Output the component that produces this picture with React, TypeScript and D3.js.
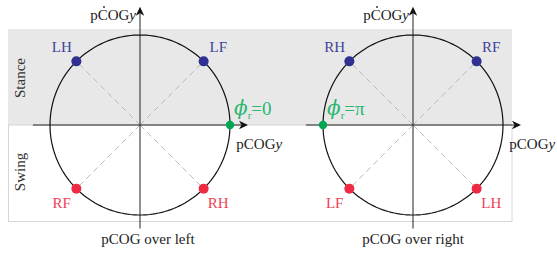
import * as d3 from 'd3';

// Leg placement (degrees, counter-clockwise from +x) and names per panel
const legAngles = [45, 135, 225, 315];
const leftLegs = ['LF', 'LH', 'RF', 'RH'];
const rightLegs = ['RF', 'RH', 'LF', 'LH'];
const panelTitles = ['pCOG over left', 'pCOG over right'];
const phaseAngles = [0, 180];
const phaseLabels = ['0', 'π'];

const W = 557;
const H = 253;
const R = 90;
const cy = 125;
const panelCx = [140, 413];

const BLUE = '#2e3192';
const RED = '#ee2a45';
const GREEN = '#00a651';
const GREEN_TXT = '#2bb673';
const FONT = '"Liberation Serif", "Times New Roman", serif';

function Arrow({ x, y, dir }: { x: number; y: number; dir: 'up' | 'right' }) {
  // stealth-like arrowhead with tip at (x, y)
  const p = 'M0,0 L-9,-4.2 L-6.5,0 L-9,4.2 Z';
  const rot = dir === 'up' ? -90 : 0;
  return <path d={p} transform={`translate(${x},${y}) rotate(${rot})`} fill="#111" />;
}

function Panel({ idx }: { idx: number }) {
  const cx = panelCx[idx];
  const xs = d3.scaleLinear().domain([-1, 1]).range([cx - R, cx + R]);
  const ys = d3.scaleLinear().domain([-1, 1]).range([cy + R, cy - R]);
  const legs = idx === 0 ? leftLegs : rightLegs;
  const rad = (a: number) => (a * Math.PI) / 180;

  const circle = d3
    .line<number>()
    .x((a) => xs(Math.cos(rad(a))))
    .y((a) => ys(Math.sin(rad(a))))
    .curve(d3.curveLinearClosed)(d3.range(0, 360, 2));

  const ph = phaseAngles[idx];
  const phx = xs(Math.cos(rad(ph)));
  const phy = ys(Math.sin(rad(ph)));

  return (
    <g>
      {/* dashed spokes */}
      {legAngles.map((a, i) => (
        <line
          key={'d' + i}
          x1={xs(0)}
          y1={ys(0)}
          x2={xs(Math.cos(rad(a)))}
          y2={ys(Math.sin(rad(a)))}
          stroke="#bbbbbb"
          strokeWidth={1}
          strokeDasharray="6,4"
        />
      ))}
      {/* axes */}
      <line x1={xs(-1.19)} x2={xs(1.13)} y1={ys(0)} y2={ys(0)} stroke="#222" strokeWidth={1} />
      <Arrow x={xs(1.2)} y={ys(0)} dir="right" />
      <line x1={xs(0)} x2={xs(0)} y1={ys(-1.15)} y2={ys(1.24)} stroke="#222" strokeWidth={1} />
      <Arrow x={xs(0)} y={ys(1.315)} dir="up" />
      {/* circle */}
      <path d={circle ?? ''} fill="none" stroke="#111" strokeWidth={1.2} />
      {/* legs */}
      {legAngles.map((a, i) => {
        const c = a < 180 ? BLUE : RED;
        const lx = xs(Math.cos(rad(a)) * 1.23);
        const ly = ys(Math.sin(rad(a)) * 1.23);
        return (
          <g key={'l' + i}>
            <circle cx={xs(Math.cos(rad(a)))} cy={ys(Math.sin(rad(a)))} r={5} fill={c} />
            <text x={lx} y={ly + 5} textAnchor="middle" fontSize={15} fill={c} opacity={0.9}>
              {legs[i]}
            </text>
          </g>
        );
      })}
      {/* phase marker */}
      <circle cx={phx} cy={phy} r={4.2} fill={GREEN} />
      <text x={phx + 4} y={phy - 10} fontSize={19} fill={GREEN_TXT}>
        <tspan fontStyle="italic" fontSize={20} fontFamily='"DejaVu Serif", serif'>ϕ</tspan>
        <tspan fontSize={11} dy={4}>r</tspan>
        <tspan dy={-4}>{'=' + phaseLabels[idx]}</tspan>
      </text>
      {/* axis labels */}
      <text x={xs(0) - 4} y={20} textAnchor="end" fontSize={15} fill="#222">
        pCOG<tspan fontStyle="italic">y</tspan>
      </text>
      <circle cx={xs(0) - 36} cy={7} r={0.9} fill="#222" />
      <text x={xs(1.07)} y={ys(0) + 24} fontSize={15} fill="#222">
        pCOG<tspan fontStyle="italic">y</tspan>
      </text>
      <text x={idx === 0 ? cx + 8 : cx} y={244} textAnchor="middle" fontSize={15} fill="#222">
        {panelTitles[idx]}
      </text>
    </g>
  );
}

export default function App() {
  return (
    <svg
      width={W}
      height={H}
      style={{ position: 'absolute', left: 0, top: 0, background: '#fff' }}
      fontFamily={FONT}
    >
      {/* stance band and swing box */}
      <rect x={8} y={29} width={504} height={96} fill="#e8e8e8" />
      <rect x={8.5} y={125} width={503.5} height={96.5} fill="#fff" stroke="#d6d6d6" strokeWidth={1} />
      <text transform="translate(25,78) rotate(-90)" textAnchor="middle" fontSize={15} fill="#333">
        Stance
      </text>
      <text transform="translate(25,172) rotate(-90)" textAnchor="middle" fontSize={15} fill="#333">
        Swing
      </text>
      <Panel idx={0} />
      <Panel idx={1} />
    </svg>
  );
}
